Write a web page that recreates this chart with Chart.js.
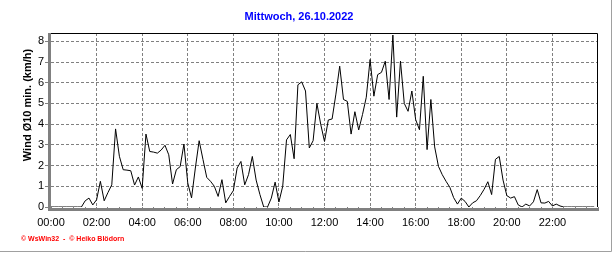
<!DOCTYPE html>
<html>
<head>
<meta charset="utf-8">
<script src="https://cdn.jsdelivr.net/npm/chart.js@4.4.0/dist/chart.umd.min.js"></script>
<style>
    html, body { margin: 0; padding: 0; background: #fff; }
    #chartBox { width: 616px; height: 253px; }
</style>
</head>
<body>
<div id="chartBox"><canvas id="windChart" width="616" height="253"></canvas></div>
<script>
// Texts
const chartTitle = 'Mittwoch, 26.10.2022';
const yAxisTitle = 'Wind Ø10 min. (km/h)';
const creditText = '© WsWin32  -  © Heiko Blödorn';

// Axis ticks
const hourLabels = ['00:00', '02:00', '04:00', '06:00', '08:00', '10:00',
                    '12:00', '14:00', '16:00', '18:00', '20:00', '22:00'];
const yTickValues = [0, 1, 2, 3, 4, 5, 6, 7, 8];

// Wind average (km/h), one value every 10 minutes, 00:00 - 23:50
const intervalMinutes = 10;
const windAvg = [
    0, 0, 0, 0, 0, 0, 0, 0, 0, 0.3, 0.43, 0.1,
    0.35, 1.24, 0.3, 0.7, 1.07, 3.77, 2.45, 1.8, 1.78, 1.75, 1.06, 1.45,
    0.9, 3.52, 2.68, 2.65, 2.6, 2.75, 2.98, 2.52, 1.11, 1.8, 1.95, 3.04,
    1.16, 0.44, 1.88, 3.2, 2.3, 1.43, 1.24, 1.0, 0.51, 1.32, 0.2, 0.51,
    0.79, 1.88, 2.2, 1.07, 1.56, 2.44, 1.3, 0.6, 0, 0, 0.43, 1.2,
    0.24, 1.0, 3.24, 3.5, 2.33, 5.9, 6.04, 5.6, 2.85, 3.2, 5.0, 4.0,
    3.16, 4.2, 4.25, 5.45, 6.8, 5.19, 5.1, 3.52, 4.6, 3.72, 4.46, 5.3,
    7.12, 5.35, 6.39, 6.5, 7.04, 5.19, 8.3, 4.34, 7.04, 5.0, 4.62, 5.6,
    4.22, 3.73, 6.31, 2.77, 5.19, 2.9, 1.96, 1.56, 1.24, 0.95, 0.45, 0.14,
    0.43, 0.27, 0, 0.2, 0.3, 0.55, 0.85, 1.22, 0.6, 2.3, 2.44, 1.3,
    0.55, 0.43, 0.5, 0.1, 0, 0.14, 0.05, 0.25, 0.84, 0.2, 0.19, 0.27,
    0.05, 0.14, 0.05, 0, 0, 0, 0, 0, 0, 0, 0, 0
];

Chart.defaults.font.family = 'Arial, "Liberation Sans", sans-serif';
Chart.defaults.font.size = 11;
Chart.defaults.color = '#000';

// Frame, axis title and credit line (WsWin32 style)
const framePlugin = {
    id: 'frame',
    afterDraw(chart) {
        const ctx = chart.ctx;
        const a = chart.chartArea;
        ctx.save();

        // black border top / right
        ctx.strokeStyle = '#000';
        ctx.lineWidth = 1;
        ctx.beginPath();
        ctx.moveTo(a.left, a.top + 0.5);
        ctx.lineTo(a.right - 0.5, a.top + 0.5);
        ctx.lineTo(a.right - 0.5, a.bottom);
        ctx.stroke();

        // grey axes left / bottom
        ctx.strokeStyle = '#808080';
        ctx.lineWidth = 3;
        ctx.beginPath();
        ctx.moveTo(a.left - 1.5, a.top);
        ctx.lineTo(a.left - 1.5, a.bottom + 4);
        ctx.moveTo(a.left - 3, a.bottom + 2.5);
        ctx.lineTo(a.right, a.bottom + 2.5);
        ctx.stroke();

        // outer window frame
        ctx.strokeStyle = '#a0a0a0';
        ctx.lineWidth = 1;
        ctx.beginPath();
        ctx.moveTo(611.5, 0);
        ctx.lineTo(611.5, 251.5);
        ctx.lineTo(0, 251.5);
        ctx.stroke();

        // y axis title
        ctx.fillStyle = '#000';
        ctx.font = 'bold 11px Arial, "Liberation Sans", sans-serif';
        ctx.textAlign = 'center';
        ctx.textBaseline = 'middle';
        ctx.translate(28, 105);
        ctx.rotate(-Math.PI / 2);
        ctx.fillText(yAxisTitle, 0, 0);
        ctx.setTransform(1, 0, 0, 1, 0, 0);

        // credit
        ctx.fillStyle = '#ff0000';
        ctx.font = 'bold 7px Arial, "Liberation Sans", sans-serif';
        ctx.textAlign = 'left';
        ctx.fillText(creditText, 21, 239);
        ctx.restore();
    }
};

const points = windAvg.map((v, i) => ({ x: i * intervalMinutes, y: v }));

new Chart(document.getElementById('windChart'), {
    type: 'line',
    data: {
        datasets: [{
            data: points,
            borderColor: '#000',
            borderWidth: 1,
            pointRadius: 0,
            tension: 0,
            fill: false
        }]
    },
    options: {
        responsive: false,
        animation: false,
        layout: { padding: { top: 0, right: 18, bottom: 0, left: 0 } },
        scales: {
            x: {
                type: 'linear',
                min: 0,
                max: 1440,
                afterBuildTicks: s => {
                    s.ticks = [];
                    for (let m = 0; m <= 1440; m += 30) s.ticks.push({ value: m });
                },
                afterFit: s => { s.height = 46; },
                ticks: {
                    autoSkip: false,
                    maxRotation: 0,
                    padding: 5,
                    color: '#000',
                    callback: v => (v % 120 === 0 && v < 1440) ? hourLabels[v / 120] : ''
                },
                grid: {
                    color: c => (c.tick && c.tick.value % 120 === 0 && c.tick.value > 0 && c.tick.value < 1440) ? '#808080' : 'transparent',
                    lineWidth: 1,
                    tickColor: '#808080',
                    tickLength: 4
                },
                border: { display: false, dash: [3, 2] }
            },
            y: {
                min: 0,
                max: 8.4,
                afterBuildTicks: s => { s.ticks = yTickValues.map(v => ({ value: v })); },
                afterFit: s => { s.width = 51; },
                ticks: {
                    padding: 1,
                    color: '#000',
                    callback: v => String(v)
                },
                grid: {
                    color: c => (c.tick && c.tick.value > 0) ? '#808080' : 'transparent',
                    lineWidth: 1,
                    tickColor: '#808080',
                    tickLength: 6
                },
                border: { display: false, dash: [3, 2] }
            }
        },
        plugins: {
            legend: { display: false },
            tooltip: { enabled: false },
            title: {
                display: true,
                text: chartTitle,
                color: '#0000ff',
                font: { size: 11, weight: 'bold', lineHeight: '13px' },
                padding: { top: 10, bottom: 10 }
            }
        }
    },
    plugins: [framePlugin]
});
</script>
</body>
</html>
